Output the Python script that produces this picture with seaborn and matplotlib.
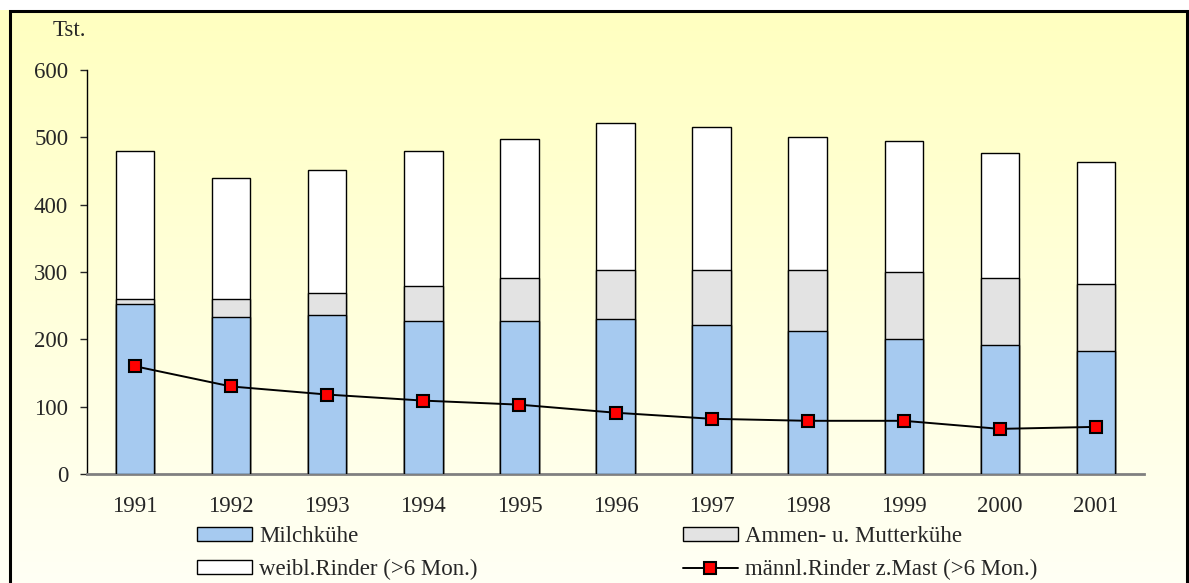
import numpy as np
import pandas as pd
import matplotlib
matplotlib.use('Agg')
import matplotlib.pyplot as plt
import seaborn as sns
from matplotlib.patches import Rectangle, Patch
from matplotlib.lines import Line2D

years = ['1991', '1992', '1993', '1994', '1995', '1996', '1997', '1998', '1999', '2000', '2001']
milchkuehe = [252, 233, 236, 227, 227, 230, 221, 212, 200, 191, 182]
ammen_mutter = [8, 27, 33, 52, 64, 73, 82, 91, 100, 100, 100]
weibl_rinder = [219, 179, 182, 200, 206, 218, 212, 197, 194, 185, 181]
maennl_rinder = [160, 130, 118, 109, 103, 91, 82, 79, 79, 67, 70]

df = pd.DataFrame({'year': years, 'milch': milchkuehe, 'ammen': ammen_mutter,
                   'weibl': weibl_rinder, 'maennl': maennl_rinder})
df['lvl2'] = df['milch'] + df['ammen']
df['lvl3'] = df['lvl2'] + df['weibl']

sns.set_style('white')
plt.rcParams['font.family'] = ['Liberation Serif', 'DejaVu Serif']

fig = plt.figure(figsize=(11.89, 5.83), dpi=100)

# gradient background inside the frame
bg = fig.add_axes([0, 0, 1, 1], zorder=-10)
grad = np.linspace(0, 1, 256).reshape(-1, 1)
top = np.array([1.0, 1.0, 0.75])
bot = np.array([1.0, 1.0, 0.96])
img = top + (bot - top) * grad
bg.imshow(img.reshape(256, 1, 3), aspect='auto', extent=[0, 1, 0, 1])
bg.set_xlim(0, 1)
bg.set_ylim(0, 1)
bg.axis('off')
fig.patches.append(Rectangle((10 / 1189, -0.01), 1177 / 1189, 1 - 11 / 583 + 0.01,
                             transform=fig.transFigure, fill=False,
                             edgecolor='black', linewidth=2.2, zorder=5))
# white strip above frame
fig.patches.append(Rectangle((0, 1 - 10 / 583), 1, 10 / 583, transform=fig.transFigure,
                             facecolor='white', edgecolor='none', zorder=4))

ax = fig.add_axes([87 / 1189, 1 - 474 / 583, (1144 - 87) / 1189, (474 - 70) / 583])
ax.patch.set_alpha(0)

bw = 0.4
sns.barplot(data=df, x='year', y='lvl3', color='white', edgecolor='black',
            linewidth=1, width=bw, saturation=1, ax=ax, zorder=2)
sns.barplot(data=df, x='year', y='lvl2', color='#e3e3e3', edgecolor='black',
            linewidth=1, width=bw, saturation=1, ax=ax, zorder=3)
sns.barplot(data=df, x='year', y='milch', color='#a6caf0', edgecolor='black',
            linewidth=1, width=bw, saturation=1, ax=ax, zorder=4)
sns.lineplot(x=np.arange(len(years)), y=df['maennl'], color='black', linewidth=1.4,
             marker='s', markersize=8.8, markerfacecolor='#ff0000',
             markeredgecolor='black', markeredgewidth=1.5, ax=ax, zorder=6)

ax.set_ylim(0, 600)
ax.set_xlim(-0.5, len(years) - 0.5)
ax.set_yticks(range(0, 601, 100))
ax.set_xlabel('')
ax.set_ylabel('')
ax.tick_params(axis='y', labelsize=16.5, length=5, width=1, direction='out', left=True, pad=8.5)
ax.tick_params(axis='x', labelsize=16.5, length=0, pad=16)
for s in ['top', 'right']:
    ax.spines[s].set_visible(False)
ax.spines['left'].set_color('black')
ax.spines['left'].set_linewidth(1)
ax.spines['bottom'].set_color('#808080')
ax.spines['bottom'].set_linewidth(2)

fig.text(53 / 1189, 1 - 31 / 583, 'Tst.', fontsize=16.5, va='center', ha='left')

handles = [
    Patch(facecolor='#a6caf0', edgecolor='black', linewidth=1),
    Patch(facecolor='white', edgecolor='black', linewidth=1),
    Patch(facecolor='#e3e3e3', edgecolor='black', linewidth=1),
    Line2D([], [], color='black', linewidth=1.4, marker='s', markersize=8.8,
           markerfacecolor='#ff0000', markeredgecolor='black', markeredgewidth=1.5),
]
labels = ['Milchkühe', 'weibl.Rinder (>6 Mon.)', 'Ammen- u. Mutterkühe',
          'männl.Rinder z.Mast (>6 Mon.)']
fig.legend(handles, labels, ncol=2, loc='upper left', bbox_to_anchor=(188 / 1189, 1 - 517 / 583),
           frameon=False, fontsize=16.5, handlelength=2.4, handleheight=0.55,
           handletextpad=0.3, columnspacing=8.95, labelspacing=0.52, borderaxespad=0)

fig.savefig('out.png', dpi=100)
